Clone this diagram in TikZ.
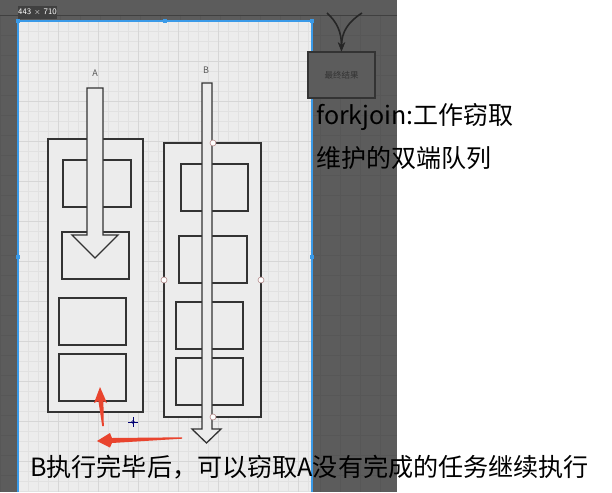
\documentclass[tikz,border=0pt]{standalone}
\usepackage{fontspec}
\newfontfamily\cjk{Noto Sans CJK SC}
\usetikzlibrary{arrows.meta}

\definecolor{darkbg}{HTML}{5C5C5C}
\definecolor{darkgrid}{HTML}{575757}
\definecolor{canvas}{HTML}{ECECEC}
\definecolor{minorgrid}{HTML}{E1E1E1}
\definecolor{majorgrid}{HTML}{D6D6D6}
\definecolor{boxline}{HTML}{333333}
\definecolor{selblue}{HTML}{3A9AE8}
\definecolor{handleline}{HTML}{B48A8A}
\definecolor{redmark}{HTML}{E9442E}

\tikzstyle{area} = [draw=boxline,fill=canvas,line width=1.3pt]
\tikzstyle{handle} = [draw=handleline,fill=white,line width=0.6pt]
\tikzstyle{selhandle} = [fill=selblue]
\tikzstyle{bigtext} = [font=\cjk\fontsize{25}{29}\selectfont,anchor=west,inner sep=0pt,text=black]
\tikzstyle{small} = [font=\cjk\fontsize{9}{10}\selectfont,text=black!65,inner sep=0pt]

\begin{document}
\begin{tikzpicture}[x=1pt,y=-1pt]
    \useasboundingbox (0,0) rectangle (612,492);
    % editor background
    \fill[white] (0,0) rectangle (612,492);
    \fill[darkbg] (0,0) rectangle (397,492);
    \foreach \x in {0,20,...,397}
    {\draw[darkgrid,line width=0.5pt] (\x,15) -- (\x,492);}
    \foreach \y in {15,35,...,492}
    {\draw[darkgrid,line width=0.5pt] (0,\y) -- (397,\y);}
    \draw[black!75,line width=0.6pt] (0,15) -- (397,15);
    % canvas
    \fill[canvas] (18,21) rectangle (312,492);
    \foreach \x in {18,28,...,312}
    {\draw[minorgrid,line width=0.5pt] (\x,21) -- (\x,492);}
    \foreach \y in {21,31,...,492}
    {\draw[minorgrid,line width=0.5pt] (18,\y) -- (312,\y);}
    \foreach \x in {58,98,...,312}
    {\draw[majorgrid,line width=0.5pt] (\x,21) -- (\x,492);}
    \foreach \y in {61,101,...,492}
    {\draw[majorgrid,line width=0.5pt] (18,\y) -- (312,\y);}
    \draw[selblue,line width=1.2pt] (18,492) -- (18,21) -- (312,21) -- (312,492);
    \foreach \p in {(18,21),(165,21),(312,21),(18,257),(312,257)}
    {\fill[selhandle] \p +(-2,-2) rectangle +(2,2);}
    \node[fill=black!75,text=white,font=\sffamily\fontsize{8.5}{9}\selectfont,
          inner sep=0pt,minimum width=39,minimum height=13] (size) at (37.5,12.5) {443 $\times$ 710};
    % result box
    \node[draw=black!80,fill=darkbg,line width=1.2pt,minimum width=67,minimum height=46,
          font=\cjk\fontsize{8.5}{9}\selectfont,text=black!80] (result) at (341.5,75) {最终结果};
    \coordinate (lsrc) at (327,13);
    \coordinate (rsrc) at (362,13);
    \draw[black!85,line width=1.6pt,-{Stealth[length=9pt,width=7pt]}] (lsrc) .. controls (337,22) and (341.5,32) .. (result.north);
    \draw[black!85,line width=1.6pt,-{Stealth[length=9pt,width=7pt]}] (rsrc) .. controls (348,22) and (341.5,32) .. (result.north);
    % deque A
    \node[small] (labA) at (95,73) {A};
    \draw[area] (48,139) rectangle (143,412);
    \draw[area] (63,160) rectangle (131,207);
    \draw[area] (62,232) rectangle (129,279);
    \draw[area] (59,298) rectangle (126,345);
    \draw[area] (59,354) rectangle (126,401);
    \draw[area] (87,88) -- (103,88) -- (103,235) -- (118,235) -- (95,258) -- (72,235) -- (87,235) -- cycle;
    % deque B
    \node[small] (labB) at (206,70) {B};
    \draw[area] (164,143) rectangle (261,417);
    \draw[area] (181,164) rectangle (248,211);
    \draw[area] (179,236) rectangle (247,283);
    \draw[area] (176,302) rectangle (243,349);
    \draw[area] (176,358) rectangle (243,405);
    \draw[area] (202,83) -- (212,83) -- (212,429) -- (221,429) -- (206.5,443) -- (192,429) -- (202,429) -- cycle;
    \foreach \p in {(213,143),(164,280),(261,280),(213,417)}
    {\draw[handle] \p circle (3);}
    % steal marks
    \fill[redmark] (103.8,426) -- (103.4,401) -- (107,403) -- (100,387) -- (94,403) -- (98.4,401) -- (102.2,426) -- cycle;
    \fill[redmark] (182,437.3) -- (112,438) -- (110,433) -- (97,441) -- (110,447.5) -- (112,443) -- (182,438.7) -- cycle;
    % cursor
    \draw[black!55!blue,line width=0.6pt] (128,422) -- (138,422) (133,417) -- (133,427);
    \draw[black!55!blue,line width=0.6pt] (133,422) circle (1.5);
    % notes
    \node[bigtext] (title) at (316,117) {forkjoin:工作窃取};
    \node[bigtext] (deque) at (316,158) {维护的双端队列};
    \node[bigtext,font=\cjk\fontsize{25.1}{29}\selectfont] (note) at (30,467) {B执行完毕后，可以窃取A没有完成的任务继续执行};
\end{tikzpicture}
\end{document}
